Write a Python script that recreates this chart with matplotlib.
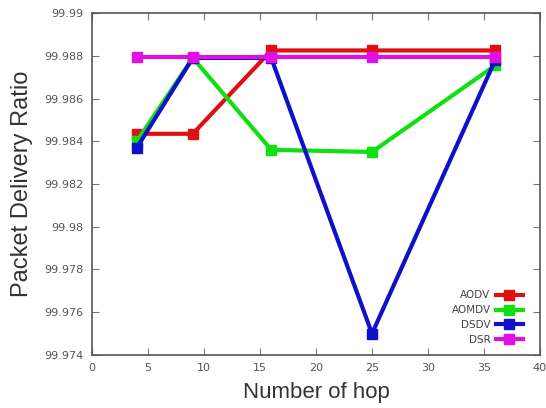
import matplotlib
matplotlib.use("Agg")
import matplotlib.pyplot as plt
from matplotlib.ticker import FixedLocator, FixedFormatter

hops = [4, 9, 16, 25, 36]
aodv = [99.98435, 99.98435, 99.98825, 99.98825, 99.98825]
aomdv = [99.9840, 99.9879, 99.98360, 99.98350, 99.98755]
dsdv = [99.98370, 99.98790, 99.98790, 99.97500, 99.98780]
dsr = [99.98795, 99.98795, 99.98795, 99.98795, 99.98795]

series = [("AODV", aodv, "#e01010"), ("AOMDV", aomdv, "#10e010"),
          ("DSDV", dsdv, "#1010c8"), ("DSR", dsr, "#e010e0")]

yticks = [99.974, 99.976, 99.978, 99.98, 99.982, 99.984, 99.986, 99.988, 99.99]
ytick_labels = ["99.974", "99.976", "99.978", "99.98", "99.982",
                "99.984", "99.986", "99.988", "99.99"]
xticks = [0, 5, 10, 15, 20, 25, 30, 35, 40]

fig = plt.figure(figsize=(5.46, 4.08), dpi=100)
ax = fig.add_axes([0.1685, 0.13, 0.8205, 0.838])

for name, vals, col in series:
    ax.plot(hops, vals, color=col, lw=3.0, marker="s", ms=7, label=name)

ax.set_xlim(0, 40)
ax.set_ylim(99.974, 99.99)
ax.yaxis.set_major_locator(FixedLocator(yticks))
ax.yaxis.set_major_formatter(FixedFormatter(ytick_labels))
ax.set_xticks(xticks)
ax.tick_params(direction="in", top=True, right=True, length=5, width=0.8,
               colors="#777777", labelsize=8, labelcolor="#555555", pad=6)
for s in ax.spines.values():
    s.set_color("#555555")
    s.set_linewidth(1.2)

ax.set_xlabel("Number of hop", fontsize=16, color="#333333", labelpad=6,
              family="Liberation Sans")
ax.set_ylabel("Packet Delivery Ratio", fontsize=17, color="#333333", labelpad=8,
              family="Liberation Sans")

leg = ax.legend(loc="lower right", frameon=False, fontsize=7.5, markerfirst=False,
                handlelength=2.6, handletextpad=0.5, labelspacing=0.45,
                borderaxespad=0.6, bbox_to_anchor=(0.985, 0.0))
for t in leg.get_texts():
    t.set_color("#444444")

fig.savefig("out.png", dpi=100)
